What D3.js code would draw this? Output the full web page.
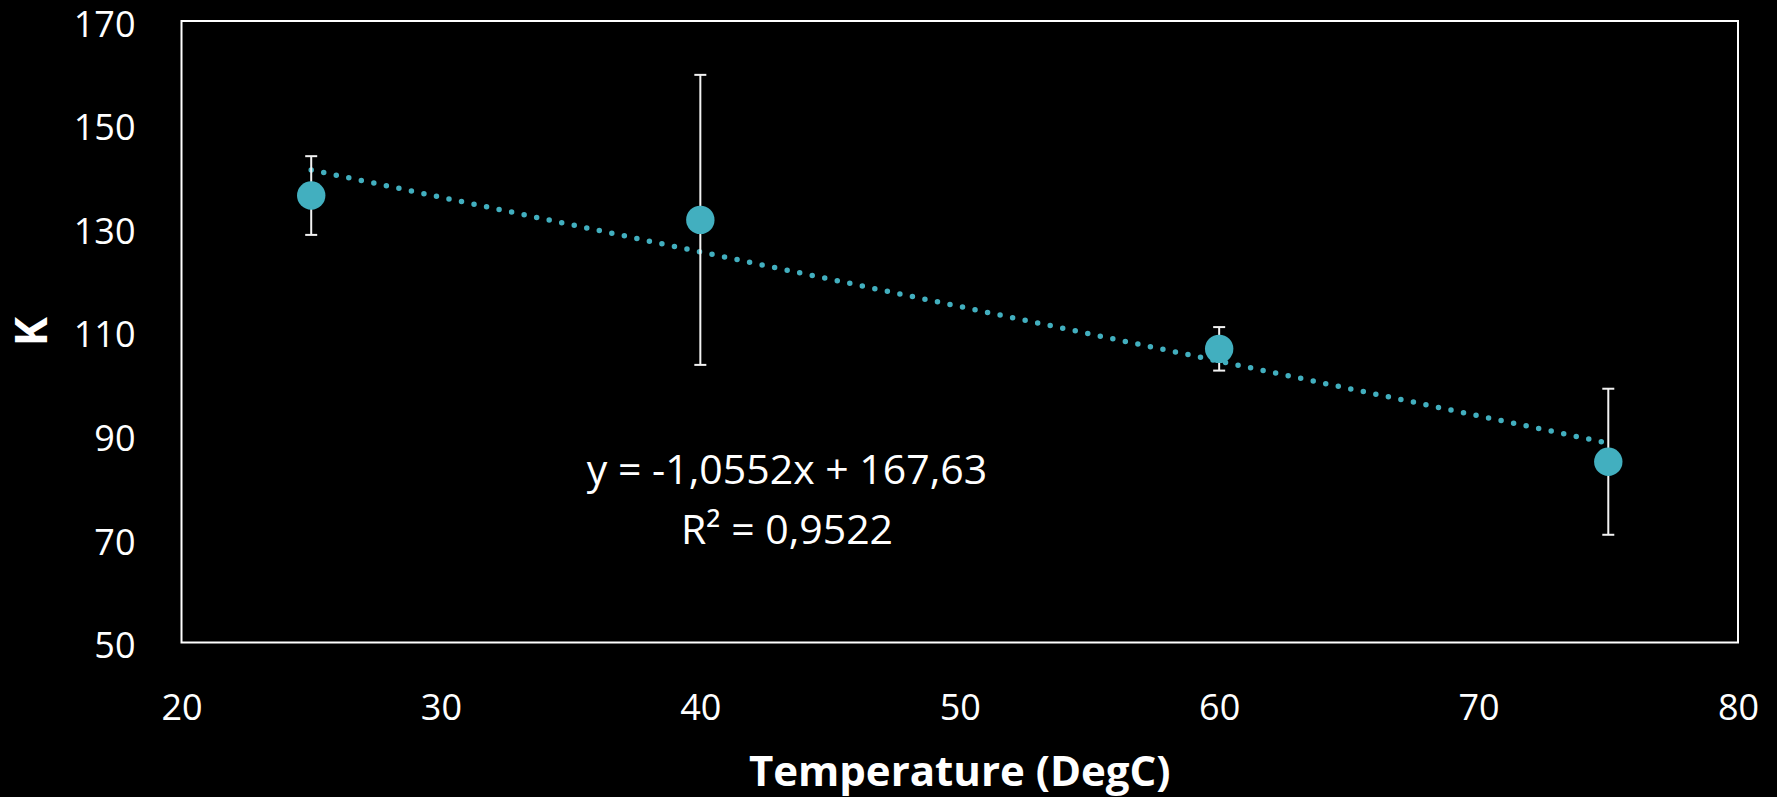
<!DOCTYPE html>
<html>
<head>
<meta charset="utf-8">
<script src="https://cdn.jsdelivr.net/npm/d3@7"></script>
<style>
  html, body { margin: 0; padding: 0; background: #000; }
  svg { display: block; }
</style>
</head>
<body>
<script>
// ---- data ----
const temperatures = [25, 40, 60, 75];
const kValues = [136.3, 131.6, 106.7, 84.9];
const kErrors = [7.6, 28.0, 4.2, 14.1];
const xTicks = [20, 30, 40, 50, 60, 70, 80];
const yTicks = [50, 70, 90, 110, 130, 150, 170];
const trendSlope = -1.0552;
const trendIntercept = 167.63;
const equationLines = ["y = -1,0552x + 167,63", "R² = 0,9522"];
const xTitle = "Temperature (DegC)";
const yTitle = "K";

// ---- layout ----
const W = 1777, H = 797;
const plot = { left: 181.5, top: 21, right: 1738, bottom: 642.5 };
const teal = "#42AFBF";
const font = "'Open Sans', 'Noto Sans', sans-serif";

const svg = d3.select("body").append("svg")
  .attr("width", W).attr("height", H)
  .style("background", "#000");

const x = d3.scaleLinear().domain([20, 80]).range([plot.left, plot.right]);
const y = d3.scaleLinear().domain([50, 170]).range([plot.bottom, plot.top]);

// plot border
svg.append("rect")
  .attr("x", plot.left).attr("y", plot.top)
  .attr("width", plot.right - plot.left).attr("height", plot.bottom - plot.top)
  .attr("fill", "none").attr("stroke", "#fff").attr("stroke-width", 2);

// axes (labels only)
const yAxis = d3.axisLeft(y).tickValues(yTicks).tickSize(0).tickPadding(0).tickFormat(d3.format("d"));
const gy = svg.append("g").attr("transform", `translate(${plot.left - 46},0)`).call(yAxis);
gy.select(".domain").remove();
gy.selectAll("text")
  .attr("fill", "#fff").attr("font-family", font).attr("font-size", 36)
  .attr("dy", "0.42em");

const xAxis = d3.axisBottom(x).tickValues(xTicks).tickSize(0).tickPadding(0).tickFormat(d3.format("d"));
const gx = svg.append("g").attr("transform", `translate(0,${plot.bottom + 52})`).call(xAxis);
gx.select(".domain").remove();
gx.selectAll("text")
  .attr("fill", "#fff").attr("font-family", font).attr("font-size", 36)
  .attr("dy", "0.72em");

// axis titles
svg.append("text")
  .attr("x", (plot.left + plot.right) / 2).attr("y", 786)
  .attr("text-anchor", "middle")
  .attr("fill", "#fff").attr("font-family", font).attr("font-weight", "bold")
  .attr("font-size", 42)
  .text(xTitle);

svg.append("text")
  .attr("transform", `translate(47,${(plot.top + plot.bottom) / 2}) rotate(-90)`)
  .attr("text-anchor", "middle")
  .attr("fill", "#fff").attr("font-family", font).attr("font-weight", "bold")
  .attr("font-size", 44)
  .text(yTitle);

// trendline (dotted)
const xMin = d3.min(temperatures), xMax = d3.max(temperatures);
svg.append("line")
  .attr("x1", x(xMin)).attr("y1", y(trendSlope * xMin + trendIntercept))
  .attr("x2", x(xMax)).attr("y2", y(trendSlope * xMax + trendIntercept))
  .attr("stroke", teal).attr("stroke-width", 5.5)
  .attr("stroke-linecap", "round")
  .attr("stroke-dasharray", "0 12.8");

const pts = temperatures.map((t, i) => ({ t, k: kValues[i], e: kErrors[i] }));

// error bars
const eb = svg.append("g").attr("stroke", "#f2f2f2").attr("stroke-width", 2);
pts.forEach(p => {
  eb.append("line")
    .attr("x1", x(p.t)).attr("x2", x(p.t))
    .attr("y1", y(p.k + p.e)).attr("y2", y(p.k - p.e));
  [p.k + p.e, p.k - p.e].forEach(v => {
    eb.append("line")
      .attr("x1", x(p.t) - 6).attr("x2", x(p.t) + 6)
      .attr("y1", y(v)).attr("y2", y(v));
  });
});

// markers
svg.append("g").selectAll("circle").data(pts).join("circle")
  .attr("cx", d => x(d.t)).attr("cy", d => y(d.k))
  .attr("r", 14.2).attr("fill", teal);

// equation
const eq = svg.append("text")
  .attr("text-anchor", "middle")
  .attr("fill", "#fff").attr("font-family", font).attr("font-size", 41);
eq.selectAll("tspan").data(equationLines).join("tspan")
  .attr("x", 787).attr("y", (d, i) => 484 + i * 60)
  .text(d => d);
</script>
</body>
</html>
